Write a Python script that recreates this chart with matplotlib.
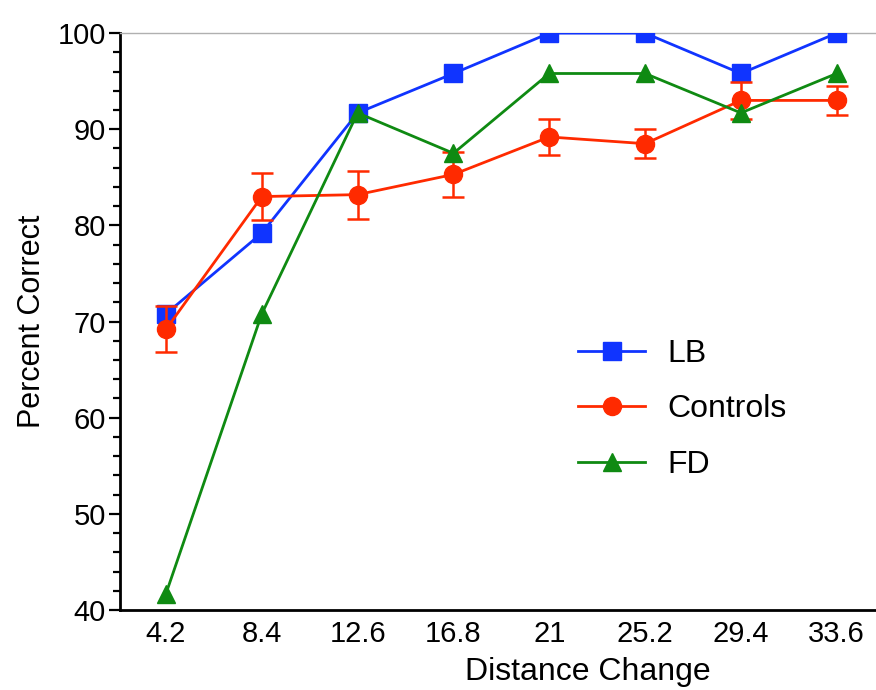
import numpy as np
import matplotlib
matplotlib.use('Agg')
import matplotlib.pyplot as plt
from matplotlib.ticker import MultipleLocator
from matplotlib.lines import Line2D

plt.rcParams['font.family'] = ['Liberation Sans', 'DejaVu Sans']

distances = ['4.2', '8.4', '12.6', '16.8', '21', '25.2', '29.4', '33.6']
lb = [70.8, 79.2, 91.7, 95.8, 100, 100, 95.8, 100]
controls = [69.2, 83.0, 83.2, 85.3, 89.2, 88.5, 93.0, 93.0]
controls_err = [2.4, 2.4, 2.5, 2.3, 1.9, 1.5, 1.9, 1.5]
fd = [41.7, 70.8, 91.7, 87.5, 95.8, 95.8, 91.7, 95.8]

blue = '#1034ff'
red = '#ff2a00'
green = '#0f8a12'

x = np.arange(len(distances))

fig = plt.figure(figsize=(8.76, 6.9), dpi=100)
ax = fig.add_axes([0.137, 0.116, 0.863, 0.836])

ax.plot(x, lb, color=blue, lw=2, marker='s', ms=13, zorder=3)
ax.errorbar(x, controls, yerr=controls_err, color=red, lw=2, marker='o', ms=13,
            capsize=8, elinewidth=1.8, capthick=1.8, zorder=4)
ax.plot(x, fd, color=green, lw=2, marker='^', ms=13, zorder=5)

ax.set_xlim(-0.48, 7.41)
ax.set_ylim(40, 100)
ax.set_xticks(x)
ax.set_xticklabels(distances)
ax.yaxis.set_major_locator(MultipleLocator(10))
ax.yaxis.set_minor_locator(MultipleLocator(2))

for side in ['left', 'bottom']:
    ax.spines[side].set_linewidth(2)
ax.spines['right'].set_visible(False)
ax.spines['top'].set_color('#b0b0b0')
ax.spines['top'].set_linewidth(1)

ax.tick_params(axis='y', which='major', direction='out', length=8, width=1.6, labelsize=21, pad=2)
ax.tick_params(axis='y', which='minor', direction='out', length=5, width=1.6)
ax.tick_params(axis='x', length=0, labelsize=21, pad=7)

ax.set_xlabel('Distance Change', fontsize=23)
ax.xaxis.set_label_coords(0.619, -0.081)
ax.set_ylabel('Percent Correct', fontsize=22, labelpad=8)

handles = [Line2D([], [], color=blue, lw=2, marker='s', ms=13),
           Line2D([], [], color=red, lw=2, marker='o', ms=13),
           Line2D([], [], color=green, lw=2, marker='^', ms=13)]
labels = ['LB', 'Controls', 'FD']
ax.legend(handles, labels, loc='upper left', bbox_to_anchor=(0.568, 0.52), frameon=False,
          fontsize=23, handlelength=2.1, labelspacing=0.8, handletextpad=0.7, numpoints=1)

fig.savefig('out.png', dpi=100)
